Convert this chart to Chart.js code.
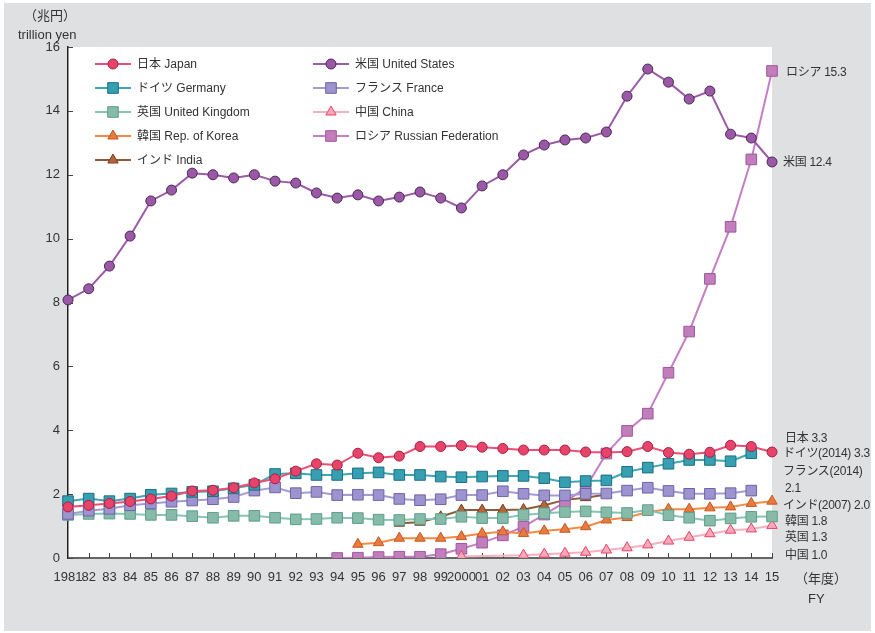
<!DOCTYPE html>
<html lang="ja">
<head>
<meta charset="utf-8">
<title>Sales by country</title>
<script src="https://cdn.jsdelivr.net/npm/chart.js@4.4.1/dist/chart.umd.min.js"></script>
<style>
    body { margin: 0; background: #fff; font-family: 'Liberation Sans', 'Noto Sans CJK JP', sans-serif; }
    #frame { position: absolute; left: 4px; top: 3px; width: 867px; height: 628px; background: #dfe0e2; }
    #wrap { position: absolute; left: 0; top: 0; width: 875px; height: 633px; }
    .note { position: absolute; font-size: 12px; color: #333; white-space: nowrap; line-height: 1; transform: translateY(-50%); letter-spacing: -0.3px; }
    .unit { font-size: 13px; letter-spacing: 0; }
</style>
</head>
<body>
<div id="frame"></div>
<div id="wrap"><canvas id="sales-chart"></canvas></div>

<div class="note unit" style="left:24px; top:15px;">（兆円）</div>
<div class="note unit" style="left:18px; top:34px;">trillion yen</div>

<div class="note" style="left:786px; top:72px;">ロシア 15.3</div>
<div class="note" style="left:783px; top:162px;">米国 12.4</div>
<div class="note" style="left:785px; top:438px;">日本 3.3</div>
<div class="note" style="left:783px; top:453px;">ドイツ(2014) 3.3</div>
<div class="note" style="left:783px; top:471px;">フランス(2014)</div>
<div class="note" style="left:785px; top:488px;">2.1</div>
<div class="note" style="left:783px; top:505px;">インド(2007) 2.0</div>
<div class="note" style="left:785px; top:521px;">韓国 1.8</div>
<div class="note" style="left:785px; top:537px;">英国 1.3</div>
<div class="note" style="left:785px; top:555px;">中国 1.0</div>

<div class="note unit" style="left:795px; top:578px;">（年度）</div>
<div class="note unit" style="left:808px; top:598px;">FY</div>

<script>
// Anos fiscais (eixo x)
const years = ['1981', '82', '83', '84', '85', '86', '87', '88', '89', '90', '91', '92', '93', '94', '95', '96', '97', '98', '99',
    '2000', '01', '02', '03', '04', '05', '06', '07', '08', '09', '10', '11', '12', '13', '14', '15'];

// Valores por país (trilhões de ienes)
const japan = [1.60, 1.65, 1.71, 1.77, 1.85, 1.94, 2.10, 2.12, 2.20, 2.35, 2.48,
    2.72, 2.95, 2.91, 3.28, 3.14, 3.19, 3.49, 3.49,
    3.52, 3.47, 3.43, 3.38, 3.38, 3.38, 3.32, 3.30, 3.33, 3.49, 3.30, 3.25, 3.31, 3.53, 3.49, 3.32];
const unitedStates = [8.08, 8.43, 9.14, 10.08, 11.18, 11.52, 12.05, 12.00, 11.90, 12.00, 11.80,
    11.74, 11.43, 11.27, 11.37, 11.18, 11.30, 11.46, 11.27,
    10.96, 11.65, 12.00, 12.62, 12.93, 13.09, 13.15, 13.34, 14.46, 15.31, 14.90, 14.37, 14.62, 13.27, 13.15, 12.40];
const germany = [1.78, 1.86, 1.78, 1.86, 1.98, 2.02, 2.07, 2.09, 2.18, 2.29, 2.63,
    2.65, 2.60, 2.60, 2.65, 2.68, 2.60, 2.60, 2.55,
    2.53, 2.55, 2.57, 2.57, 2.50, 2.37, 2.41, 2.43, 2.70, 2.83, 2.95, 3.07, 3.07, 3.03, 3.28, null];
const france = [1.38, 1.48, 1.54, 1.65, 1.71, 1.76, 1.80, 1.84, 1.91, 2.11, 2.21,
    2.03, 2.07, 1.97, 1.98, 1.97, 1.85, 1.81, 1.84,
    1.97, 1.97, 2.09, 2.01, 1.96, 1.96, 2.01, 2.02, 2.11, 2.20, 2.10, 2.01, 2.01, 2.03, 2.11, null];
const unitedKingdom = [1.35, 1.38, 1.39, 1.38, 1.35, 1.35, 1.31, 1.26, 1.32, 1.32, 1.26,
    1.21, 1.22, 1.26, 1.25, 1.20, 1.19, 1.22, 1.22,
    1.29, 1.25, 1.25, 1.35, 1.40, 1.44, 1.46, 1.43, 1.41, 1.50, 1.34, 1.26, 1.17, 1.24, 1.29, 1.30];
const china = [null, null, null, null, null, null, null, null, null, null, null,
    null, null, null, null, null, null, null, null,
    0.05, null, null, 0.09, 0.12, 0.15, 0.18, 0.25, 0.32, 0.41, 0.53, 0.65, 0.76, 0.87, 0.91, 1.02];
const korea = [null, null, null, null, null, null, null, null, null, null, null,
    null, null, null, 0.43, 0.48, 0.62, 0.62, 0.62,
    0.67, 0.77, 0.82, 0.77, 0.85, 0.90, 0.98, 1.19, 1.27, 1.44, 1.53, 1.53, 1.57, 1.60, 1.71, 1.78];
const russia = [null, null, null, null, null, null, null, null, null, null, null,
    null, null, 0.00, 0.01, 0.03, 0.04, 0.04, 0.12,
    0.29, 0.48, 0.71, 0.98, 1.36, 1.75, 2.20, 3.27, 3.98, 4.52, 5.80, 7.09, 8.74, 10.37, 12.48, 15.25];
const india = [null, null, null, null, null, null, null, null, null, null, null,
    null, null, null, null, null, 1.09, 1.12, 1.29,
    1.50, 1.50, 1.50, 1.52, 1.65, 1.82, 1.89, 1.99, null, null, null, null, null, null, null, null];

// Marcas do eixo y
const yTicks = [0, 2, 4, 6, 8, 10, 12, 14, 16];

document.addEventListener('DOMContentLoaded', () => {
    setupChart();
});

// Monta uma série com o estilo da linha e do marcador
function series(label, data, line, fill, border, style, radius) {
    return {
        label: label,
        data: data,
        borderColor: line,
        backgroundColor: fill,
        borderWidth: 2,
        pointStyle: style,
        pointRadius: radius,
        pointBackgroundColor: fill,
        pointBorderColor: border,
        pointBorderWidth: 1,
        spanGaps: true,
        tension: 0
    };
}

// Desenha um marcador igual ao do Chart.js
function drawMarker(ctx, style, r, x, y) {
    ctx.beginPath();
    if (style === 'circle') {
        ctx.arc(x, y, r, 0, Math.PI * 2);
    } else if (style === 'rect') {
        const s = r * Math.SQRT1_2;
        ctx.rect(x - s, y - s, 2 * s, 2 * s);
    } else {
        let rad = 0;
        ctx.moveTo(x + Math.sin(rad) * r, y - Math.cos(rad) * r);
        rad += Math.PI * 2 / 3;
        ctx.lineTo(x + Math.sin(rad) * r, y - Math.cos(rad) * r);
        rad += Math.PI * 2 / 3;
        ctx.lineTo(x + Math.sin(rad) * r, y - Math.cos(rad) * r);
        ctx.closePath();
    }
    ctx.fill();
    ctx.stroke();
}

// Fundo branco só na área do gráfico
const plotBackground = {
    id: 'plotBackground',
    beforeDraw(chart) {
        const a = chart.chartArea;
        const ctx = chart.ctx;
        ctx.save();
        ctx.fillStyle = '#ffffff';
        ctx.fillRect(a.left, a.top, a.right - a.left, a.bottom - a.top);
        ctx.restore();
    }
};

// Marcas dos eixos voltadas para dentro
const innerTicks = {
    id: 'innerTicks',
    beforeDatasetsDraw(chart) {
        const ctx = chart.ctx;
        const a = chart.chartArea;
        const x = chart.scales.x;
        const y = chart.scales.y;
        ctx.save();
        ctx.strokeStyle = '#444';
        ctx.lineWidth = 1;
        ctx.beginPath();
        for (let i = 1; i < years.length; i++) {
            const px = Math.round(x.getPixelForValue(i)) + 0.5;
            ctx.moveTo(px, a.bottom);
            ctx.lineTo(px, a.bottom - 5);
        }
        yTicks.forEach(v => {
            const py = Math.round(y.getPixelForValue(v)) + 0.5;
            ctx.moveTo(a.left, py);
            ctx.lineTo(a.left + 5, py);
        });
        ctx.stroke();
        ctx.restore();
    }
};

// Legenda em duas colunas dentro do gráfico
const boxLegend = {
    id: 'boxLegend',
    afterDraw(chart) {
        const ctx = chart.ctx;
        const colX = [95, 313];
        const rowY = [64, 88, 112, 136, 160];
        ctx.save();
        ctx.font = "12px 'Liberation Sans', 'Noto Sans CJK JP', sans-serif";
        ctx.textBaseline = 'middle';
        chart.data.datasets.forEach((ds, i) => {
            const x0 = colX[i % 2];
            const y0 = rowY[Math.floor(i / 2)];
            ctx.strokeStyle = ds.borderColor;
            ctx.lineWidth = 2;
            ctx.beginPath();
            ctx.moveTo(x0, y0);
            ctx.lineTo(x0 + 36, y0);
            ctx.stroke();
            ctx.fillStyle = ds.pointBackgroundColor;
            ctx.strokeStyle = ds.pointBorderColor;
            ctx.lineWidth = 1;
            drawMarker(ctx, ds.pointStyle, ds.pointRadius, x0 + 18, y0);
            ctx.fillStyle = '#333';
            ctx.fillText(ds.label, x0 + 42, y0 + 1);
        });
        ctx.restore();
    }
};

// Cria o gráfico de linhas
function setupChart() {
    const ctx = document.getElementById('sales-chart');
    window.salesChart = new Chart(ctx, {
        type: 'line',
        data: {
            labels: years,
            datasets: [
                series('日本 Japan', japan, '#ee4d74', '#e8436a', '#a8213f', 'circle', 5),
                series('米国 United States', unitedStates, '#9c5aa9', '#9b58a6', '#4b2a55', 'circle', 5),
                series('ドイツ Germany', germany, '#3fa6b6', '#36a0b2', '#1d6f80', 'rect', 7.5),
                series('フランス France', france, '#a59bd4', '#9d94cf', '#6e63a8', 'rect', 7.5),
                series('英国 United Kingdom', unitedKingdom, '#86c4b4', '#85bba8', '#5f9f8b', 'rect', 7.5),
                series('中国 China', china, '#f5b1be', '#f6a9b8', '#e8436a', 'triangle', 6),
                series('韓国 Rep. of Korea', korea, '#f58a45', '#ea7b40', '#c4581e', 'triangle', 6),
                series('ロシア Russian Federation', russia, '#c47fc4', '#c27ebb', '#9e56a0', 'rect', 7.5),
                series('インド India', india, '#8e5b3a', '#b5653a', '#7a3f1e', 'triangle', 6)
            ]
        },
        options: {
            responsive: true,
            maintainAspectRatio: false,
            animation: false,
            layout: {
                padding: { left: 8, right: 103, top: 47, bottom: 0 }
            },
            plugins: {
                legend: { display: false },
                tooltip: { enabled: false }
            },
            scales: {
                x: {
                    offset: false,
                    grid: { display: false, drawTicks: false },
                    border: { display: true, color: '#666', width: 2 },
                    ticks: {
                        autoSkip: false,
                        maxRotation: 0,
                        minRotation: 0,
                        padding: 12,
                        color: '#333',
                        font: { family: "'Liberation Sans', sans-serif", size: 13 }
                    },
                    afterFit: scale => { scale.height = 75; }
                },
                y: {
                    min: 0,
                    max: 16,
                    grid: { display: false, drawTicks: false },
                    border: { display: true, color: '#222', width: 1.5 },
                    afterBuildTicks: scale => {
                        scale.ticks = yTicks.map(v => ({ value: v }));
                    },
                    ticks: {
                        padding: 8,
                        color: '#333',
                        font: { family: "'Liberation Sans', sans-serif", size: 13 }
                    },
                    afterFit: scale => { scale.width = 60; }
                }
            }
        },
        plugins: [plotBackground, innerTicks, boxLegend]
    });
}
</script>
</body>
</html>
